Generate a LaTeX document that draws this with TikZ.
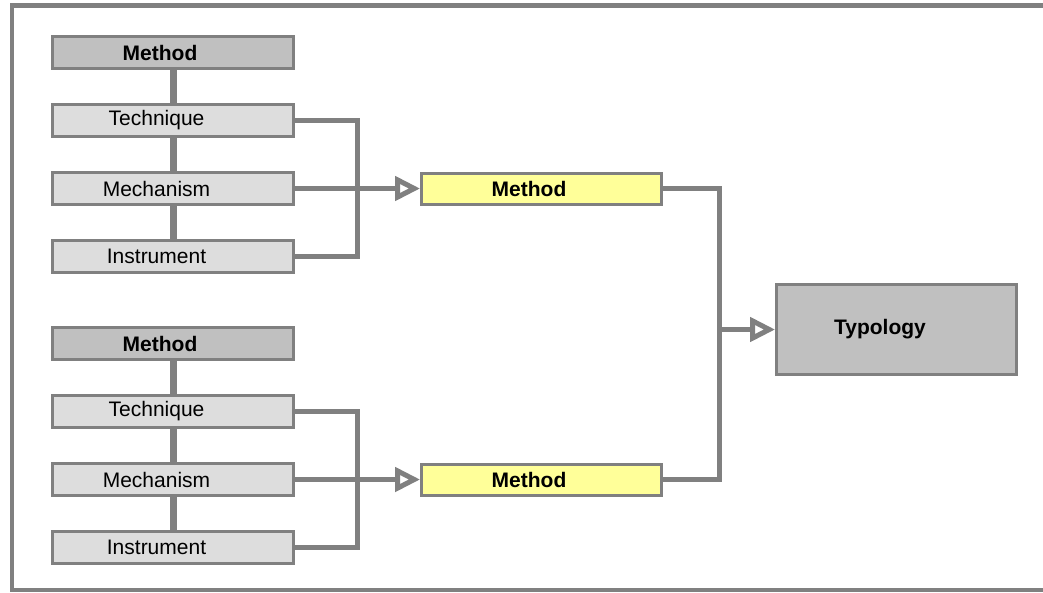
\documentclass[tikz,border=0pt]{standalone}
\usepackage{fontspec}
\setmainfont{Liberation Sans}
\usetikzlibrary{arrows.meta, positioning}
\definecolor{colorLine}{HTML}{808080}
\definecolor{colorHead}{HTML}{C0C0C0}
\definecolor{colorPart}{HTML}{DDDDDD}
\definecolor{colorMethod}{HTML}{FFFF99}
\tikzset{
  textshift/.style={execute at begin node={\hspace*{#1}}},
  plainbox/.style={draw=colorLine, line width=3pt, fill=colorPart, inner sep=0pt,
    minimum width=241pt, minimum height=32pt},
  box/.style={plainbox, textshift=-33pt},
  headbox/.style={plainbox, fill=colorHead, font=\fontsize{21}{25}\selectfont\bfseries, textshift=-26pt},
  methodbox/.style={plainbox, fill=colorMethod, minimum width=240pt, minimum height=31pt,
    font=\fontsize{21}{25}\selectfont\bfseries, textshift=-25pt},
  link/.style={draw=colorLine, line width=5pt},
  stem/.style={draw=colorLine, line width=7pt},
  openarrow/.style={link, -{Triangle[open, length=25pt, width=24pt]}}
}

\begin{document}
\begin{tikzpicture}[x=1pt, y=-1pt, node distance=33pt, every node/.style={font=\fontsize{21}{25}\selectfont}]
\useasboundingbox (0,0) rectangle (1043,592);
\draw[colorLine, line width=4.5pt] (12,5.5) rectangle (1070,590);

% first group
\node[headbox] (head1) at (173,52.5) {Method};
\node[box, below=of head1] (tech1) {Technique};
\node[box, below=of tech1] (mech1) {Mechanism};
\node[box, below=of mech1] (inst1) {Instrument};
% second group
\node[headbox] (head2) at (173,343.5) {Method};
\node[box, below=of head2] (tech2) {Technique};
\node[box, below=of tech2] (mech2) {Mechanism};
\node[box, below=of mech2] (inst2) {Instrument};

\node[methodbox] (meth1) at (541.5,0 |- mech1) {Method};
\node[methodbox] (meth2) at (541.5,0 |- mech2) {Method};
\node[plainbox, fill=colorHead, font=\fontsize{21}{25}\selectfont\bfseries, textshift=-33pt,
  minimum width=240pt, minimum height=90pt] (typo) at (896.5,329.5) {Typology};

\coordinate (brk1) at (357,0 |- mech1);
\coordinate (brk2) at (357,0 |- mech2);
\coordinate (brk3) at (719.5,0 |- typo);

\foreach \g in {1,2} {
  \draw[stem] (head\g.south) -- (tech\g.north);
  \draw[stem] (tech\g.south) -- (mech\g.north);
  \draw[stem] (mech\g.south) -- (inst\g.north);
  \draw[link] (tech\g.east) -| (brk\g) |- (inst\g.east);
  \draw[openarrow] (mech\g.east) -- (meth\g.west);
}
\draw[link] (meth1.east) -| (brk3) |- (meth2.east);
\draw[openarrow] (brk3) -- (typo.west);
\end{tikzpicture}
\end{document}
